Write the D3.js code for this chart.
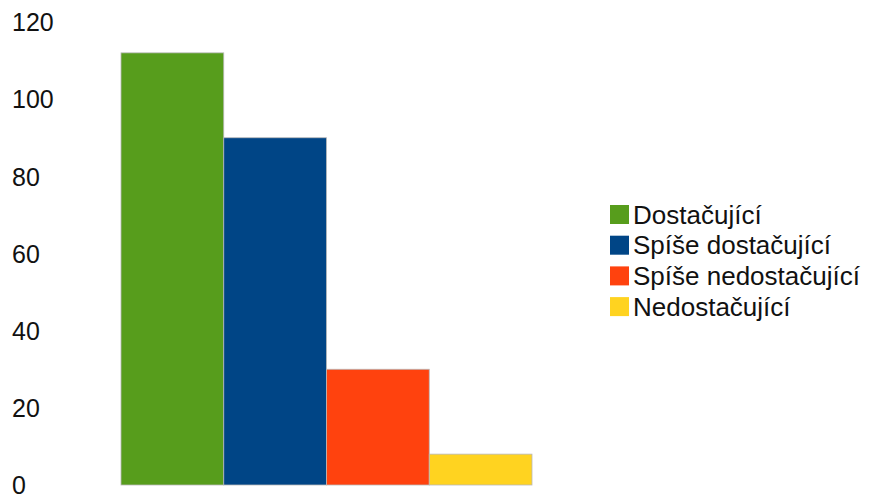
<!DOCTYPE html>
<html>
<head>
<meta charset="utf-8">
<script src="https://cdn.jsdelivr.net/npm/d3@7"></script>
<style>
  html, body { margin: 0; padding: 0; background: #fff; }
  svg { display: block; font-family: "Liberation Sans", Arial, sans-serif; }
</style>
</head>
<body>
<svg id="chart" width="873" height="500"></svg>
<script>
const categories = ["Dostačující", "Spíše dostačující", "Spíše nedostačující", "Nedostačující"];
const values = [112, 90, 30, 8];
const colors = ["#579d1c", "#004586", "#ff420e", "#ffd320"];
const yTicks = [0, 20, 40, 60, 80, 100, 120];

const svg = d3.select("#chart");

const x = d3.scaleBand().domain(categories).range([121, 532]).padding(0);
const y = d3.scaleLinear().domain([0, 120]).range([485, 22]);

// Y axis labels (left aligned, no line)
const yAxis = d3.axisLeft(y).tickValues(yTicks).tickSize(0).tickFormat(d3.format("d"));
const gy = svg.append("g").call(yAxis);
gy.select(".domain").remove();
gy.selectAll("text")
  .attr("x", 12)
  .attr("dy", "0.35em")
  .attr("text-anchor", "start")
  .attr("fill", "#111")
  .style("font-size", "25px")
  .style("font-family", "'Liberation Sans', Arial, sans-serif");

// Bars
svg.append("g").selectAll("rect")
  .data(categories)
  .join("rect")
  .attr("x", d => x(d))
  .attr("y", (d, i) => y(values[i]))
  .attr("width", x.bandwidth())
  .attr("height", (d, i) => y(0) - y(values[i]))
  .attr("fill", (d, i) => colors[i])
  .attr("stroke", "#b8b8b8")
  .attr("stroke-width", 0.8);

// Legend
const legend = svg.append("g").attr("transform", "translate(610,205)");
const rows = legend.selectAll("g")
  .data(categories)
  .join("g")
  .attr("transform", (d, i) => `translate(0,${i * 30.7})`);
rows.append("rect")
  .attr("width", 19).attr("height", 19)
  .attr("fill", (d, i) => colors[i]);
rows.append("text")
  .attr("x", 23)
  .attr("y", 9.5)
  .attr("dy", "0.35em")
  .style("font-size", "26px")
  .attr("fill", "#111")
  .text(d => d);
</script>
</body>
</html>
